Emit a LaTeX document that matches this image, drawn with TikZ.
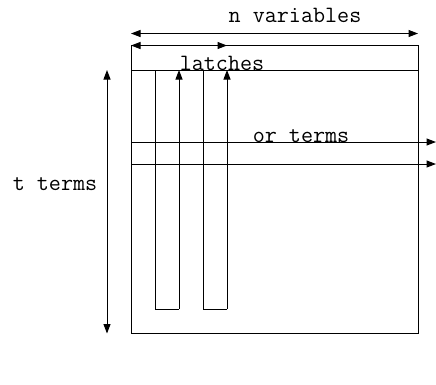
\documentclass[tikz,border=0pt]{standalone}
\usepackage{fontspec}
\usetikzlibrary{positioning, arrows.meta}

\begin{document}
\begin{tikzpicture}[x=1bp, y=-1bp, line width=1pt, >={Triangle[length=9.5bp,width=7bp]}]
\tikzstyle{every node}+=[inner sep=0pt]
\tikzstyle{lbl}=[anchor=base, font=\fontsize{23.5}{26}\selectfont\ttfamily]
\useasboundingbox (0,0) rectangle (436,384);
\coordinate (tl) at (131,45.5);
\coordinate (tr) at (418,45.5);
\coordinate (bl) at (131,333.5);
\coordinate (br) at (418,333.5);
\coordinate (ll) at (131,70);
\coordinate (lr) at (418,70);
\draw (tl) -- (tr) -- (br) -- (bl) -- cycle;
\draw (ll) -- (lr);
\coordinate (nl) at (131,33.5);
\coordinate (nr) at (418,33.5);
\draw [<->] (nl) -- (nr);
\node [lbl] (nvar) at (295,22) {n variables};
\coordinate (la) at (227,45.5);
\draw [<->] (tl) -- (la);
\node [lbl] (latch) at (222,70) {latches};
\coordinate (c1a) at (155,70);
\coordinate (c1b) at (155,309);
\coordinate (c1c) at (179,309);
\coordinate (c1d) at (179,70);
\draw (c1a) -- (c1b) -- (c1c);
\draw [->] (c1c) -- (c1d);
\coordinate (c2a) at (203,70);
\coordinate (c2b) at (203,309);
\coordinate (c2c) at (227,309);
\coordinate (c2d) at (227,70);
\draw (c2a) -- (c2b) -- (c2c);
\draw [->] (c2c) -- (c2d);
\coordinate (o1l) at (131,142);
\coordinate (o1r) at (436,142);
\coordinate (o2l) at (131,164);
\coordinate (o2r) at (436,164);
\draw [->] (o1l) -- (o1r);
\draw [->] (o2l) -- (o2r);
\node [lbl] (orterm) at (301,142) {or terms};
\coordinate (tt) at (107,70);
\coordinate (tb) at (107,333.5);
\draw [<->] (tt) -- (tb);
\node [lbl] (tterm) at (55,190) {t terms};
\end{tikzpicture}
\end{document}
